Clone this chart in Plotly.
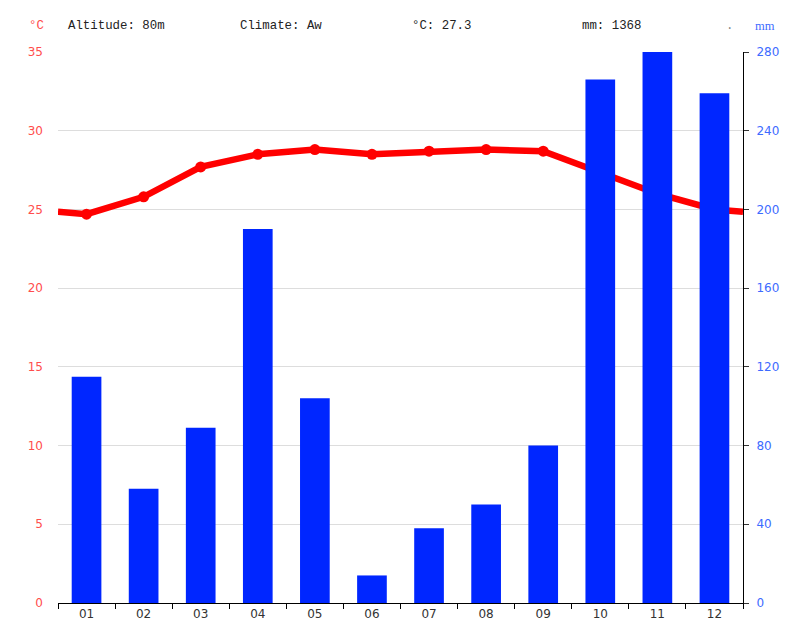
import plotly.graph_objects as go

months = ["01", "02", "03", "04", "05", "06", "07", "08", "09", "10", "11", "12"]
temp_c = [24.7, 25.8, 27.7, 28.5, 28.8, 28.5, 28.7, 28.8, 28.7, 27.4, 26.0, 25.0]
precip_mm = [115, 58, 89, 190, 104, 14, 38, 50, 80, 266, 280, 259]
temp_ticks = [0, 5, 10, 15, 20, 25, 30, 35]
precip_ticks = [0, 40, 80, 120, 160, 200, 240, 280]
altitude = "80m"
climate = "Aw"
mean_temp = "27.3"
total_mm = "1368"

xpos = list(range(1, len(months) + 1))
edge = (temp_c[0] + temp_c[-1]) / 2
line_x = [0.5] + xpos + [len(months) + 0.5]
line_y = [edge] + temp_c + [edge]

RED = "#ff0000"
BLUE = "#0026ff"
RED_TXT = "#ff4d4d"
BLUE_TXT = "#3d6bff"

W, H = 804, 642
L, R, T, B = 58, 61, 52, 39
PW, PH = W - L - R, H - T - B

fig = go.Figure()
fig.add_trace(go.Bar(x=xpos, y=precip_mm, yaxis="y2", marker=dict(color=BLUE, line=dict(width=0)),
                     width=0.52, hoverinfo="skip"))
fig.add_trace(go.Scatter(x=line_x, y=line_y, mode="lines", line=dict(color=RED, width=6.5),
                         hoverinfo="skip"))
fig.add_trace(go.Scatter(x=xpos, y=temp_c, mode="markers", marker=dict(color=RED, size=11),
                         hoverinfo="skip"))

fig.update_layout(
    width=W, height=H,
    margin=dict(l=L, r=R, t=T, b=B),
    paper_bgcolor="white", plot_bgcolor="white",
    showlegend=False,
    font=dict(family="DejaVu Sans", size=12),
    xaxis=dict(range=[0.5, 12.5], tickvals=xpos, ticktext=months, ticks="",
               showgrid=False, showline=True, linecolor="black", linewidth=1,
               tickfont=dict(color="#333333", size=12), zeroline=False,
               minor=dict(tickvals=[i + 0.5 for i in range(0, 13)], ticks="outside",
                          ticklen=5, tickcolor="black", showgrid=False)),
    yaxis=dict(range=[0, 35], tickvals=temp_ticks, showgrid=True, gridcolor="#dddddd",
               gridwidth=1, zeroline=False, showline=False, ticks="",
               tickfont=dict(color=RED_TXT, size=12), ticklabelstandoff=14),
    yaxis2=dict(range=[0, 280], tickvals=precip_ticks, overlaying="y", side="right",
                showgrid=False, zeroline=False, showline=True, linecolor="black",
                ticks="outside", ticklen=5, tickcolor="#333333",
                tickfont=dict(color=BLUE_TXT, size=12), ticklabelstandoff=5),
)

mono = dict(family="Liberation Mono", size=12.4, color="#222222")
header = [
    (29, "°C", dict(mono, color=RED_TXT)),
    (68, f"Altitude: {altitude}", mono),
    (240, f"Climate: {climate}", mono),
    (412, f"°C: {mean_temp}", mono),
    (582, f"mm: {total_mm}", mono),
    (726, ".", dict(mono, color="#888888")),
    (755, "mm", dict(family="Liberation Serif", size=12.5, color=BLUE_TXT)),
]
for px, txt, f in header:
    fig.add_annotation(x=(px - L) / PW, y=(H - B - 25.5) / PH, xref="paper", yref="paper",
                       text=txt, showarrow=False, xanchor="left", yanchor="middle",
                       font=f, borderpad=0, xshift=-1)

fig.write_html("out.html")
